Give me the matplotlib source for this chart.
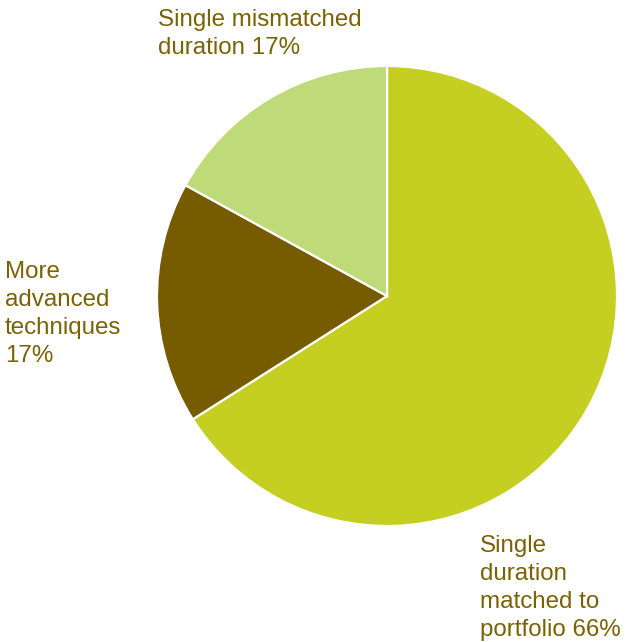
import matplotlib
matplotlib.use("Agg")
import matplotlib.pyplot as plt

labels = ["Single\nduration\nmatched to\nportfolio 66%",
          "More\nadvanced\ntechniques\n17%",
          "Single mismatched\nduration 17%"]
values = [66, 17, 17]
colors = ["#c4cf22", "#775b00", "#bfda78"]
text_color = "#7a6204"

plt.rcParams["font.family"] = ["Liberation Sans", "DejaVu Sans"]

fig = plt.figure(figsize=(6.28, 6.42), dpi=100)
ax = fig.add_axes([0.25, 0.1807, 0.7325, 0.7165])
ax.pie(values, colors=colors, startangle=90, counterclock=False,
       wedgeprops=dict(edgecolor="white", linewidth=1.6))
ax.set_aspect("equal")
ax.set_xlim(-1, 1)
ax.set_ylim(-1, 1)
ax.axis("off")

W, H = 628, 642
def place(txt, x, y):
    fig.text(x / W, 1 - y / H, txt, ha="left", va="top", fontsize=17.4,
             color=text_color, linespacing=1.36)

place(labels[2], 158, 9)
place(labels[1], 5, 261)
place(labels[0], 480, 535)

fig.savefig("out.png", dpi=100)
